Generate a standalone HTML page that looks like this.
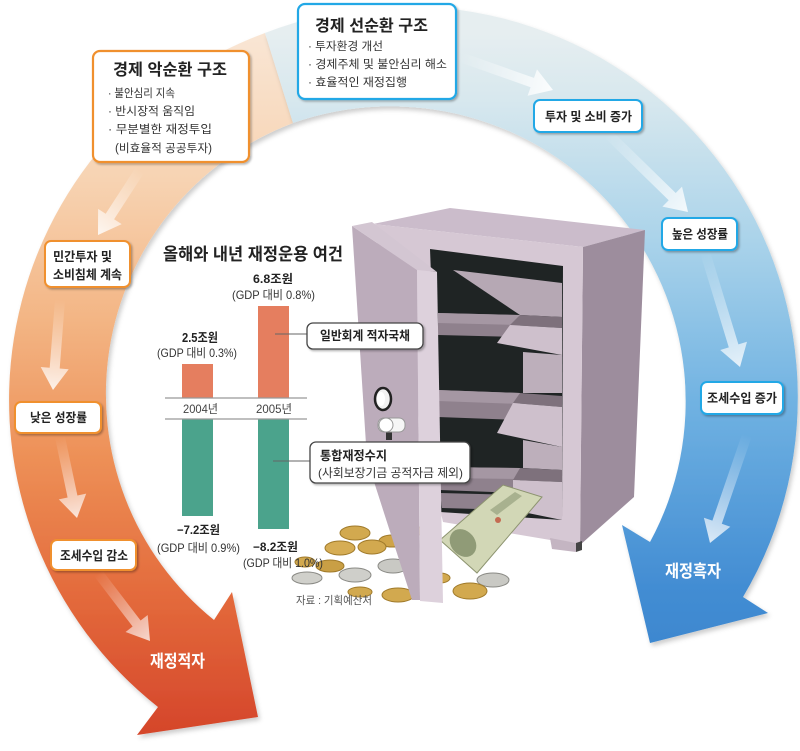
<!DOCTYPE html>
<html>
<head>
<meta charset="utf-8">
<style>
html,body{margin:0;padding:0;background:#fff;}
svg{display:block;}
text{font-family:"Liberation Sans","Noto Sans CJK KR",sans-serif;}
</style>
</head>
<body>
<svg width="800" height="751" viewBox="0 0 800 751" xmlns="http://www.w3.org/2000/svg">
<defs>
  <linearGradient id="og" gradientUnits="userSpaceOnUse" x1="0" y1="40" x2="0" y2="740">
    <stop offset="0" stop-color="#f9e5d3"/>
    <stop offset="0.2" stop-color="#f7d3b2"/>
    <stop offset="0.4" stop-color="#f3b584"/>
    <stop offset="0.6" stop-color="#ed8f56"/>
    <stop offset="0.8" stop-color="#e3693b"/>
    <stop offset="1" stop-color="#d4442a"/>
  </linearGradient>
  <linearGradient id="bg" gradientUnits="userSpaceOnUse" x1="0" y1="0" x2="0" y2="650">
    <stop offset="0.05" stop-color="#e6eef0"/>
    <stop offset="0.15" stop-color="#d8e8ee"/>
    <stop offset="0.37" stop-color="#aad3ea"/>
    <stop offset="0.62" stop-color="#70b2e2"/>
    <stop offset="0.9" stop-color="#438dd3"/>
    <stop offset="1" stop-color="#3d87cf"/>
  </linearGradient>
  <linearGradient id="a1" gradientUnits="userSpaceOnUse" x1="140" y1="170" x2="98" y2="235"><stop offset="0" stop-color="#fff" stop-opacity="0"/><stop offset="1" stop-color="#fff" stop-opacity="0.85"/></linearGradient>
  <linearGradient id="a2" gradientUnits="userSpaceOnUse" x1="60" y1="300" x2="53" y2="390"><stop offset="0" stop-color="#fff" stop-opacity="0"/><stop offset="1" stop-color="#fff" stop-opacity="0.85"/></linearGradient>
  <linearGradient id="a3" gradientUnits="userSpaceOnUse" x1="60" y1="437" x2="77" y2="518"><stop offset="0" stop-color="#fff" stop-opacity="0"/><stop offset="1" stop-color="#fff" stop-opacity="0.8"/></linearGradient>
  <linearGradient id="a4" gradientUnits="userSpaceOnUse" x1="98" y1="573" x2="150" y2="641"><stop offset="0" stop-color="#fff" stop-opacity="0"/><stop offset="1" stop-color="#fff" stop-opacity="0.75"/></linearGradient>
  <linearGradient id="b1" gradientUnits="userSpaceOnUse" x1="460" y1="57" x2="553" y2="90"><stop offset="0" stop-color="#fff" stop-opacity="0"/><stop offset="1" stop-color="#fff" stop-opacity="0.9"/></linearGradient>
  <linearGradient id="b2" gradientUnits="userSpaceOnUse" x1="607" y1="133" x2="688" y2="212"><stop offset="0" stop-color="#fff" stop-opacity="0"/><stop offset="1" stop-color="#fff" stop-opacity="0.85"/></linearGradient>
  <linearGradient id="b3" gradientUnits="userSpaceOnUse" x1="705" y1="252" x2="740" y2="367"><stop offset="0" stop-color="#fff" stop-opacity="0"/><stop offset="1" stop-color="#fff" stop-opacity="0.8"/></linearGradient>
  <linearGradient id="b4" gradientUnits="userSpaceOnUse" x1="747" y1="435" x2="710" y2="543"><stop offset="0" stop-color="#fff" stop-opacity="0"/><stop offset="1" stop-color="#fff" stop-opacity="0.8"/></linearGradient>
  <filter id="sh" x="-10%" y="-10%" width="130%" height="130%">
    <feDropShadow dx="1.5" dy="1.5" stdDeviation="1" flood-color="#000" flood-opacity="0.3"/>
  </filter>
  <filter id="bsh" x="-10%" y="-10%" width="130%" height="130%">
    <feDropShadow dx="2" dy="3" stdDeviation="2.5" flood-color="#000" flood-opacity="0.2"/>
  </filter>
</defs>

<!-- bands -->
<path d="M265,33 A391,391 0 0,0 158,707 L137,735 L258,717 L232,592 L214,620 A290,290 0 0,1 293,123 Z" fill="url(#og)" filter="url(#bsh)"/>
<path d="M265,33 A391,391 0 0,1 743,597 L768,613 L650,643 L622,525 L650,542 A295,295 0 0,0 293,123 Z" fill="url(#bg)" filter="url(#bsh)"/>

<!-- inner flow arrows -->
<polygon points="144.2,172.7 114.1,219.2 121.7,224.1 98,235 98.1,208.9 105.7,213.8 135.8,167.3" fill="url(#a1)"/>
<polygon points="65,300.4 59.7,368.5 68.7,369.2 53,390 40.7,367 49.7,367.7 55,299.6" fill="url(#a2)"/>
<polygon points="64.9,436 77.4,495.5 86.2,493.6 77,518 58.8,499.4 67.6,497.5 55.1,438" fill="url(#a3)"/>
<polygon points="102,570 140.6,620.5 147.7,615 150,641 125.5,632 132.6,626.5 94,576" fill="url(#a4)"/>
<polygon points="461.7,52.3 534,77.9 537,69.4 553,90 527.6,95.8 530.6,87.3 458.3,61.7" fill="url(#b1)"/>
<polygon points="610.5,129.4 675.7,193 682,186.6 688,212 662.4,206.6 668.7,200.2 603.5,136.6" fill="url(#b2)"/>
<polygon points="709.8,250.5 738.4,344.4 747,341.8 740,367 720.2,350 728.8,347.4 700.2,253.5" fill="url(#b3)"/>
<polygon points="751.7,436.6 721.8,523.8 730.3,526.7 710,543 703.9,517.7 712.4,520.6 742.3,433.4" fill="url(#b4)"/>

<!-- big boxes -->
<rect x="93" y="51" width="156" height="111" rx="7" fill="#fff" stroke="#f0902e" stroke-width="2.2" filter="url(#sh)"/>
<text x="113" y="75" font-size="16" font-weight="bold" fill="#222" textLength="114" lengthAdjust="spacingAndGlyphs">경제 악순환 구조</text>
<text x="108" y="97" font-size="11.5" fill="#333" textLength="67" lengthAdjust="spacingAndGlyphs">· 불안심리 지속</text>
<text x="108" y="115" font-size="11.5" fill="#333" textLength="87" lengthAdjust="spacingAndGlyphs">· 반시장적 움직임</text>
<text x="108" y="133" font-size="11.5" fill="#333" textLength="104" lengthAdjust="spacingAndGlyphs">· 무분별한 재정투입</text>
<text x="115" y="152" font-size="11.5" fill="#333" textLength="97" lengthAdjust="spacingAndGlyphs">(비효율적 공공투자)</text>

<rect x="298" y="4" width="158" height="95" rx="7" fill="#fff" stroke="#22a8e6" stroke-width="2.2" filter="url(#sh)"/>
<text x="315" y="31" font-size="16" font-weight="bold" fill="#222" textLength="113" lengthAdjust="spacingAndGlyphs">경제 선순환 구조</text>
<text x="308" y="50" font-size="11.5" fill="#333" textLength="75" lengthAdjust="spacingAndGlyphs">· 투자환경 개선</text>
<text x="308" y="68" font-size="11.5" fill="#333" textLength="139" lengthAdjust="spacingAndGlyphs">· 경제주체 및 불안심리 해소</text>
<text x="308" y="86" font-size="11.5" fill="#333" textLength="99" lengthAdjust="spacingAndGlyphs">· 효율적인 재정집행</text>

<!-- small blue boxes -->
<rect x="534" y="100" width="108" height="32" rx="6" fill="#fff" stroke="#22a8e6" stroke-width="2" filter="url(#sh)"/>
<text x="545" y="121" font-size="12.5" font-weight="bold" fill="#222" textLength="87" lengthAdjust="spacingAndGlyphs">투자 및 소비 증가</text>
<rect x="662" y="218" width="75" height="32" rx="6" fill="#fff" stroke="#22a8e6" stroke-width="2" filter="url(#sh)"/>
<text x="672" y="238.5" font-size="12.5" font-weight="bold" fill="#222" textLength="56" lengthAdjust="spacingAndGlyphs">높은 성장률</text>
<rect x="701" y="382" width="82" height="32" rx="6" fill="#fff" stroke="#22a8e6" stroke-width="2" filter="url(#sh)"/>
<text x="707" y="402.5" font-size="12.5" font-weight="bold" fill="#222" textLength="70" lengthAdjust="spacingAndGlyphs">조세수입 증가</text>

<!-- small orange boxes -->
<rect x="45" y="241" width="85" height="46" rx="6" fill="#fff" stroke="#f0902e" stroke-width="2" filter="url(#sh)"/>
<text x="53" y="261" font-size="12.5" font-weight="bold" fill="#222" textLength="59" lengthAdjust="spacingAndGlyphs">민간투자 및</text>
<text x="53" y="279" font-size="12.5" font-weight="bold" fill="#222" textLength="69" lengthAdjust="spacingAndGlyphs">소비침체 계속</text>
<rect x="15" y="402" width="86" height="31" rx="6" fill="#fff" stroke="#f0902e" stroke-width="2" filter="url(#sh)"/>
<text x="30" y="422" font-size="12.5" font-weight="bold" fill="#222" textLength="57" lengthAdjust="spacingAndGlyphs">낮은 성장률</text>
<rect x="51" y="540" width="85" height="30" rx="6" fill="#fff" stroke="#f0902e" stroke-width="2" filter="url(#sh)"/>
<text x="60" y="560" font-size="12.5" font-weight="bold" fill="#222" textLength="68" lengthAdjust="spacingAndGlyphs">조세수입 감소</text>

<text x="150" y="667" font-size="17" font-weight="bold" fill="#fff" textLength="55" lengthAdjust="spacingAndGlyphs">재정적자</text>
<text x="665" y="577" font-size="17" font-weight="bold" fill="#fff" textLength="56" lengthAdjust="spacingAndGlyphs">재정흑자</text>

<!-- chart -->
<text x="163" y="260" font-size="17" font-weight="bold" fill="#222" textLength="180" lengthAdjust="spacingAndGlyphs">올해와 내년 재정운용 여건</text>
<text x="253" y="283" font-size="12" font-weight="bold" fill="#222" textLength="40" lengthAdjust="spacingAndGlyphs">6.8조원</text>
<text x="232" y="299" font-size="12" fill="#333" textLength="83" lengthAdjust="spacingAndGlyphs">(GDP 대비 0.8%)</text>
<text x="182" y="342" font-size="12.5" font-weight="bold" fill="#222" textLength="36" lengthAdjust="spacingAndGlyphs">2.5조원</text>
<text x="157" y="357" font-size="12" fill="#333" textLength="80" lengthAdjust="spacingAndGlyphs">(GDP 대비 0.3%)</text>

<rect x="182" y="364" width="31" height="34" fill="#e57e5f"/>
<rect x="258" y="306" width="31" height="92" fill="#e57e5f"/>
<rect x="182" y="419" width="31" height="97" fill="#4ba38c"/>
<rect x="258" y="419" width="31" height="110" fill="#4ba38c"/>
<line x1="165" y1="398" x2="307" y2="398" stroke="#999" stroke-width="1.2"/>
<line x1="165" y1="419" x2="307" y2="419" stroke="#999" stroke-width="1.2"/>
<text x="183" y="413" font-size="12" fill="#444" textLength="35" lengthAdjust="spacingAndGlyphs">2004년</text>
<text x="256" y="413" font-size="12" fill="#444" textLength="36" lengthAdjust="spacingAndGlyphs">2005년</text>

<text x="177" y="534" font-size="12" font-weight="bold" fill="#222" textLength="43" lengthAdjust="spacingAndGlyphs">−7.2조원</text>
<text x="157" y="552" font-size="12" fill="#333" textLength="83" lengthAdjust="spacingAndGlyphs">(GDP 대비 0.9%)</text>
<text x="253" y="551" font-size="12" font-weight="bold" fill="#222" textLength="45" lengthAdjust="spacingAndGlyphs">−8.2조원</text>

<!-- safe -->
<polygon points="373,224 450,208 645,230 583,247" fill="#cbbccb"/>
<polygon points="583,247 645,230 634,497 580,545" fill="#9d8d9d"/>
<polygon points="373,224 583,247 580,545 443,522" fill="#d6c8d4"/>
<!-- interior -->
<polygon points="430,249 563,266 562,520 440,512" fill="#1f2424"/>
<polygon points="453,270 562,283 562,317 520,315" fill="#b6a8b4"/>
<!-- shelf 1 -->
<polygon points="438,313 520,315 520,337 438,335" fill="#8f818d"/>
<polygon points="438,313 520,315 520,325 438,323" fill="#a597a3"/>
<polygon points="520,315 562,317 562,328 510,325" fill="#7e717c"/>
<polygon points="510,325 562,328 562,355 497,343" fill="#cec0cc"/>
<polygon points="523,352 562,355 562,393 523,393" fill="#bdafbb"/>
<!-- shelf 2 -->
<polygon points="438,390 520,393 520,420 438,417" fill="#8f818d"/>
<polygon points="438,390 520,393 520,404 438,401" fill="#a597a3"/>
<polygon points="520,393 562,396 562,407 513,403" fill="#7e717c"/>
<polygon points="513,403 562,407 562,447 497,433" fill="#cec0cc"/>
<polygon points="523,440 562,447 562,470 523,468" fill="#bdafbb"/>
<!-- shelf 3 -->
<polygon points="440,467 520,468 520,493 440,490" fill="#8f818d"/>
<polygon points="440,467 520,468 520,479 440,478" fill="#a597a3"/>
<polygon points="520,468 562,470 562,482 513,480" fill="#7e717c"/>
<polygon points="513,480 562,482 562,520 513,510" fill="#cec0cc"/>
<polygon points="440,493 520,495 513,510 442,508" fill="#8f818d"/>
<!-- foot -->
<polygon points="550,538 576,543 576,552 552,549" fill="#c4b5c2"/>
<polygon points="576,543 582,541 582,550 576,552" fill="#444"/>

<!-- coins -->
<g stroke-width="1">
<ellipse cx="355" cy="533" rx="15" ry="7" fill="#d2a94f" stroke="#a07a2a"/>
<ellipse cx="410" cy="531" rx="12" ry="6" fill="#d2a94f" stroke="#a07a2a"/>
<ellipse cx="392" cy="541" rx="13" ry="6" fill="#cfa448" stroke="#a07a2a"/>
<ellipse cx="340" cy="548" rx="15" ry="7" fill="#d6ad55" stroke="#a07a2a"/>
<ellipse cx="372" cy="547" rx="14" ry="7" fill="#d2a94f" stroke="#a07a2a"/>
<ellipse cx="305" cy="562" rx="10" ry="5" fill="#d2a94f" stroke="#a07a2a"/>
<ellipse cx="330" cy="566" rx="14" ry="6" fill="#c99f45" stroke="#a07a2a"/>
<ellipse cx="393" cy="566" rx="15" ry="7" fill="#c9c9c4" stroke="#8a8a85"/>
<ellipse cx="355" cy="575" rx="16" ry="7" fill="#cfcfca" stroke="#8a8a85"/>
<ellipse cx="307" cy="578" rx="15" ry="6" fill="#d0d0cb" stroke="#8a8a85"/>
<ellipse cx="360" cy="592" rx="12" ry="5" fill="#d2a94f" stroke="#a07a2a"/>
<ellipse cx="398" cy="595" rx="16" ry="7" fill="#d2a94f" stroke="#a07a2a"/>
<ellipse cx="475" cy="560" rx="10" ry="5" fill="#b07050" stroke="#7a4a30"/>
<ellipse cx="440" cy="578" rx="10" ry="5" fill="#d2a94f" stroke="#a07a2a"/>
<ellipse cx="493" cy="580" rx="16" ry="7" fill="#c9c9c4" stroke="#8a8a85"/>
<ellipse cx="470" cy="591" rx="17" ry="8" fill="#d2a94f" stroke="#a07a2a"/>
</g>
<!-- banknote -->
<polygon points="440,540 503,485 542,497 477,573" fill="#d2d7b6" stroke="#8d9470" stroke-width="1"/>
<ellipse cx="463" cy="543" rx="12" ry="15" transform="rotate(-40 463 543)" fill="#7f8c68" opacity="0.8"/>
<polygon points="490,510 515,492 522,496 497,515" fill="#8c9874" opacity="0.6"/>
<circle cx="498" cy="520" r="3" fill="#c0503a" opacity="0.8"/>

<!-- door -->
<polygon points="352,226 417,270 420,600 412,600 367,460" fill="#bcacbb"/>
<polygon points="352,226 372,222 437,272 417,270" fill="#d3c6d2"/>
<polygon points="417,270 437,272 443,603 420,601" fill="#ddd1dc"/>
<!-- lock -->
<ellipse cx="383" cy="399" rx="8" ry="11" fill="#f2f2f2" stroke="#222" stroke-width="2.5"/>
<ellipse cx="381" cy="399" rx="4" ry="7" fill="#fff"/>
<rect x="386" y="430" width="6" height="10" fill="#333"/>
<rect x="378" y="418" width="27" height="14" rx="6" fill="#f6f6f6" stroke="#999" stroke-width="1"/>
<circle cx="386" cy="425" r="7" fill="#fff" stroke="#999" stroke-width="1"/>

<!-- chart label boxes -->
<line x1="275" y1="334" x2="307" y2="334" stroke="#666" stroke-width="1"/>
<rect x="307" y="323" width="116" height="26" rx="6" fill="#fff" stroke="#444" stroke-width="1.3" filter="url(#sh)"/>
<text x="320" y="340" font-size="12.5" font-weight="bold" fill="#222" textLength="90" lengthAdjust="spacingAndGlyphs">일반회계 적자국채</text>
<line x1="273" y1="461" x2="310" y2="461" stroke="#666" stroke-width="1"/>
<rect x="310" y="442" width="160" height="41" rx="6" fill="#fff" stroke="#444" stroke-width="1.3" filter="url(#sh)"/>
<text x="320" y="460" font-size="12.5" font-weight="bold" fill="#222" textLength="67" lengthAdjust="spacingAndGlyphs">통합재정수지</text>
<text x="318" y="477" font-size="12" fill="#333" textLength="145" lengthAdjust="spacingAndGlyphs">(사회보장기금 공적자금 제외)</text>

<text x="243" y="567" font-size="12" fill="#333" textLength="80" lengthAdjust="spacingAndGlyphs">(GDP 대비 1.0%)</text>
<text x="296" y="604" font-size="11" fill="#555" textLength="76" lengthAdjust="spacingAndGlyphs">자료 : 기획예산처</text>
</svg>
</body>
</html>
